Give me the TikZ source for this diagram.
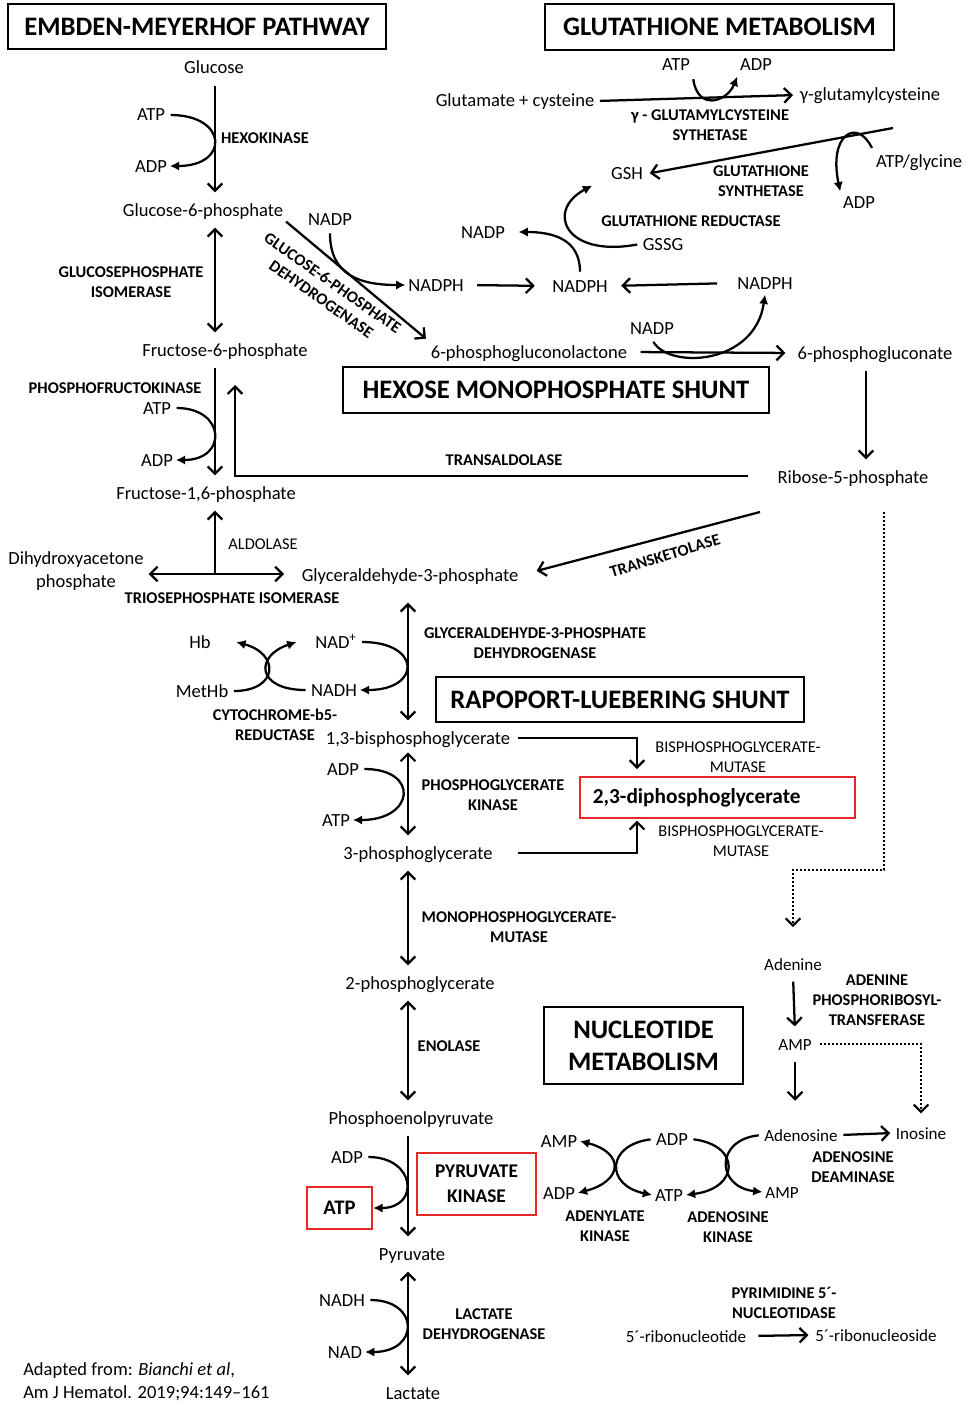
\documentclass[tikz,border=0pt]{standalone}
\usepackage{fontspec}
\setmainfont{Carlito}
\usetikzlibrary{arrows.meta}
\definecolor{boxred}{RGB}{230,40,40}
\tikzset{
  lbl/.style={font=\fontsize{13.9}{17}\selectfont, inner sep=2pt, text height=11pt, text depth=2pt},
  sml/.style={font=\fontsize{12.8}{15}\selectfont, inner sep=2pt, text height=11pt, text depth=2pt},
  two/.style={font=\fontsize{13.9}{17.5}\selectfont, inner sep=2pt, align=center},
  enz/.style={font=\bfseries\fontsize{12.3}{14.8}\selectfont, align=center, inner sep=1pt},
  enzr/.style={font=\fontsize{12.3}{14.8}\selectfont, align=center, inner sep=1pt},
  title/.style={draw, line width=1.1pt, font=\bfseries\fontsize{20}{24}\selectfont, align=center},
  redbox/.style={draw=boxred, line width=1.8pt, font=\bfseries\fontsize{14.5}{19}\selectfont, align=center},
  main/.style={line width=1.7pt, -{Straight Barb[length=5.5pt,width=11pt]}, shorten <=4.5pt, shorten >=4.5pt},
  both/.style={main, {Straight Barb[length=5.5pt,width=11pt]}-{Straight Barb[length=5.5pt,width=11pt]}},
  cof/.style={line width=1.7pt, -{Latex[length=7pt,width=7pt]}, shorten <=2pt},
  cofb/.style={line width=1.7pt, {Latex[length=7pt,width=7pt]}-{Latex[length=7pt,width=7pt]}},
  dotl/.style={line width=1.6pt, dash pattern=on 1.5pt off 1.5pt, -{Straight Barb[length=5.5pt,width=11pt]}}
}
\begin{document}
\begin{tikzpicture}[x=0.75pt, y=-0.75pt]
  \useasboundingbox (0,0) rectangle (970,1402);

  % titles
  \node[title, minimum width=283.5pt, minimum height=33.75pt] (tEMP) at (197,26.5) {EMBDEN-MEYERHOF PATHWAY};
  \node[title, minimum width=261.75pt, minimum height=34.5pt] (tGSH) at (719.5,27) {GLUTATHIONE METABOLISM};
  \node[title, minimum width=319.5pt, minimum height=34.5pt] (tHMP) at (556,390) {HEXOSE MONOPHOSPHATE SHUNT};
  \node[title, minimum width=276pt, minimum height=33.75pt] (tRL) at (620,699.5) {RAPOPORT-LUEBERING SHUNT};
  \node[title, minimum width=149.25pt, minimum height=57.75pt] (tNUC) at (643.5,1045.5) {NUCLEOTIDE\\METABOLISM};

  % columns and free ends
  \coordinate (colA) at (215,0);
  \coordinate (colB) at (408,0);
  \coordinate (colR) at (866,0);
  \coordinate (colM) at (637,0);
  \coordinate (ald) at (215,574);
  \coordinate (talend) at (748,476);
  \coordinate (tatip) at (235,385);
  \coordinate (tkstart) at (760,512);
  \coordinate (gsstart) at (893,128);
  \coordinate (dotA) at (884,512);
  \coordinate (dotB) at (793,870);

  % glycolysis
  \node[lbl] (glc) at (214,68) {Glucose};
  \node[lbl] (g6p) at (203,210) {Glucose-6-phosphate};
  \node[lbl] (f6p) at (225,350) {Fructose-6-phosphate};
  \node[lbl] (f16) at (206,493) {Fructose-1,6-phosphate};
  \node[two] (dhap) at (76,571) {Dihydroxyacetone\\phosphate};
  \node[lbl] (g3p) at (410,575) {Glyceraldehyde-3-phosphate};
  \node[lbl] (bpg) at (418,738) {1,3-bisphosphoglycerate};
  \node[lbl] (pg3) at (418,853) {3-phosphoglycerate};
  \node[lbl] (pg2) at (420,983) {2-phosphoglycerate};
  \node[lbl] (pep) at (411,1118) {Phosphoenolpyruvate};
  \node[lbl] (pyr) at (412,1254) {Pyruvate};
  \node[lbl] (lac) at (413,1393) {Lactate};

  % cofactors
  \node[lbl] (atpA) at (151,115) {ATP};
  \node[lbl] (adpA) at (151,166) {ADP};
  \node[lbl] (atpB) at (157,408) {ATP};
  \node[lbl] (adpB) at (157,460) {ADP};
  \node[lbl] (hb) at (200,642) {Hb};
  \node[lbl] (methb) at (202,691) {MetHb};
  \node[lbl] (nadA) at (336,642) {NAD\textsuperscript{+}};
  \node[lbl] (nadhA) at (334,690) {NADH};
  \node[lbl] (adpC) at (343,769) {ADP};
  \node[lbl] (atpC) at (336,820) {ATP};
  \node[lbl] (adpD) at (347,1157) {ADP};
  \node[redbox, font=\bfseries\fontsize{15.5}{19}\selectfont, minimum width=48.75pt, minimum height=31.5pt] (atpD) at (339.5,1208) {ATP};
  \node[redbox, minimum width=89.25pt, minimum height=46.5pt] (pk) at (476.5,1184) {PYRUVATE\\KINASE};
  \node[lbl] (nadhB) at (342,1300) {NADH};
  \node[lbl] (nadB) at (345,1352) {NAD};

  % hexose monophosphate shunt
  \node[lbl] (nadpA) at (330,219) {NADP};
  \node[lbl] (nadphA) at (436,285) {NADPH};
  \node[lbl] (nadphB) at (580,286) {NADPH};
  \node[lbl] (nadphC) at (765,283) {NADPH};
  \node[lbl] (pgl) at (529,352) {6-phosphogluconolactone};
  \node[lbl] (pgn) at (875,353) {6-phosphogluconate};
  \node[lbl] (nadpC) at (652,328) {NADP};
  \node[lbl] (r5p) at (853,477) {Ribose-5-phosphate};

  % glutathione
  \node[lbl] (glucys) at (515,101) {Glutamate + cysteine};
  \node[lbl] (ggc) at (870,95) {γ-glutamylcysteine};
  \node[lbl] (atpE) at (676,65) {ATP};
  \node[lbl] (adpE) at (756,65) {ADP};
  \node[lbl] (gsh) at (627,174) {GSH};
  \node[lbl] (atpgly) at (919,162) {ATP/glycine};
  \node[lbl] (adpF) at (859,203) {ADP};
  \node[lbl] (nadpB) at (483,232) {NADP};
  \node[lbl] (gssg) at (663,244) {GSSG};

  % Rapoport-Luebering
  \node[redbox, font=\bfseries\fontsize{16}{18}\selectfont, inner xsep=9.5pt, text width=187pt, align=left, minimum height=30.75pt] (dpg) at (717.5,797.5) {2,3-diphosphoglycerate};

  % nucleotides
  \node[sml] (ade) at (793,964) {Adenine};
  \node[sml] (amp) at (795,1044) {AMP};
  \node[sml] (ados) at (801,1135) {Adenosine};
  \node[sml] (ino) at (921,1133) {Inosine};
  \node[lbl] (ampA) at (559,1141) {AMP};
  \node[lbl] (adpG) at (672,1139) {ADP};
  \node[lbl] (adpH) at (559,1193) {ADP};
  \node[lbl] (atpG) at (669,1195) {ATP};
  \node[sml] (ampB) at (782,1192) {AMP};
  \node[sml] (rnt) at (686,1336) {5´-ribonucleotide};
  \node[sml] (rns) at (876,1335) {5´-ribonucleoside};

  % enzymes
  \node[enz] (hk) at (265,138) {HEXOKINASE};
  \node[enz] (gpi) at (131,282) {GLUCOSEPHOSPHATE\\ISOMERASE};
  \node[enz] (pfk) at (115,388) {PHOSPHOFRUCTOKINASE};
  \node[enz] (tald) at (504,460) {TRANSALDOLASE};
  \node[enzr] (aldo) at (263,544) {ALDOLASE};
  \node[enz] (tpi) at (232,598) {TRIOSEPHOSPHATE ISOMERASE};
  \node[enz] (gapdh) at (535,643) {GLYCERALDEHYDE-3-PHOSPHATE\\DEHYDROGENASE};
  \node[enz] (cb5r) at (275,725) {CYTOCHROME-b5-\\REDUCTASE};
  \node[enz] (pgk) at (493,795) {PHOSPHOGLYCERATE\\KINASE};
  \node[enzr] (bpgmA) at (738,757) {BISPHOSPHOGLYCERATE-\\MUTASE};
  \node[enzr] (bpgmB) at (741,841) {BISPHOSPHOGLYCERATE-\\MUTASE};
  \node[enz] (pgm) at (519,927) {MONOPHOSPHOGLYCERATE-\\MUTASE};
  \node[enz] (eno) at (449,1046) {ENOLASE};
  \node[enz] (ldh) at (484,1324) {LACTATE\\DEHYDROGENASE};
  \node[enz] (gcs) at (710,125) {γ - GLUTAMYLCYSTEINE\\SYTHETASE};
  \node[enz] (gss) at (761,181) {GLUTATHIONE\\SYNTHETASE};
  \node[enz] (gr) at (691,221) {GLUTATHIONE REDUCTASE};
  \node[enz] (aprt) at (877,1000) {ADENINE\\PHOSPHORIBOSYL-\\TRANSFERASE};
  \node[enz] (ada) at (853,1167) {ADENOSINE\\DEAMINASE};
  \node[enz] (ak) at (605,1226) {ADENYLATE\\KINASE};
  \node[enz] (adk) at (728,1227) {ADENOSINE\\KINASE};
  \node[enz] (p5n) at (784,1303) {PYRIMIDINE 5´-\\NUCLEOTIDASE};
  \node[enz, rotate=17] (tkt) at (665,556) {TRANSKETOLASE};
  \node[enz, rotate=-35] (g6pd) at (327,291) {GLUCOSE-6-PHOSPHATE\\DEHYDROGENASE};

  % source
  \node[font=\fontsize{13.9}{17.5}\selectfont, align=left, anchor=west, inner sep=0pt] (src) at (23,1382)
    {Adapted from: \textit{Bianchi et al},\\Am J Hematol. 2019;94:149–161};

  % main pathway arrows
  \draw[main] (glc.south -| colA) -- (g6p.north -| colA);
  \draw[both] (g6p.south -| colA) -- (f6p.north -| colA);
  \draw[main] (f6p.south -| colA) -- (f16.north -| colA);
  \draw[main, shorten <=0pt] (ald) -- (f16.south -| ald);
  \draw[both, shorten <=1.5pt, shorten >=11pt] (dhap.east |- ald) -- (g3p.west |- ald);
  \draw[main, shorten <=0pt, shorten >=0pt] (talend) -| (tatip);
  \draw[both, shorten <=12pt] (g3p.south -| colB) -- (bpg.north -| colB);
  \draw[both, shorten <=2pt] (bpg.south -| colB) -- (pg3.north -| colB);
  \draw[both] (pg3.south -| colB) -- (pg2.north -| colB);
  \draw[both] (pg2.south -| colB) -- (pep.north -| colB);
  \draw[main] (pep.south -| colB) -- (pyr.north -| colB);
  \draw[both] (pyr.south -| colB) -- (lac.north -| colB);

  % cofactor bends
  \draw[cof] (atpA.east) .. controls +(60,0) and +(60,0) .. (adpA.east);
  \draw[cof] (atpB.east) .. controls +(52,0) and +(52,0) .. (adpB.east);
  \draw[cof] (nadA.east) .. controls +(62,0) and +(62,0) .. (nadhA.east);
  \draw[cof] (adpC.east) .. controls +(58,0) and +(62,0) .. (atpC.east);
  \draw[cof] (adpD.east) .. controls +(50,0) and +(47,0) .. (atpD.east);
  \draw[cof] (nadhB.east) .. controls +(52,0) and +(55,0) .. (nadB.east);
  \draw[cof] (methb.east) .. controls +(47,0) and +(44,12) .. ([xshift=17pt]hb.east);
  \draw[cof] (nadhA.west) .. controls +(-52,0) and +(-42,14) .. ([xshift=-12pt]nadA.west);

  % hexose monophosphate shunt
  \draw[main, shorten <=0pt, shorten >=2pt] (g6p.south east) -- (pgl.north west);
  \draw[cof] (nadpA.south) .. controls +(0,45) and +(-45,0) .. (nadphA.west);
  \draw[main, shorten <=8pt, shorten >=11pt] (nadphA.east) -- (nadphB.west);
  \draw[main, shorten <=13pt, shorten >=8pt] (nadphC.west) -- (nadphB.east);
  \draw[main, shorten <=8pt, shorten >=7pt] (pgl.east) -- (pgn.west);
  \draw[cof] (nadpC.south) .. controls +(18,30) and +(-10,70) .. (nadphC.south);
  \draw[main] (pgn.south -| colR) -- (r5p.north -| colR);
  \draw[main, shorten <=0pt, shorten >=12pt] (tkstart) -- (g3p.east);

  % glutathione
  \draw[main, shorten <=2pt, shorten >=3pt] (glucys.east) -- (ggc.west);
  \draw[cof] (atpE.south east) .. controls +(5,35) and +(-10,25) .. (adpE.south west);
  \draw[main, shorten <=0pt, shorten >=3pt] (gsstart) -- (gsh.east);
  \draw[cof] (atpgly.north west) .. controls +(-16,-33) and +(-12,-57) .. (adpF.north west);
  \draw[cof] (gssg.west) .. controls +(-75,14) and +(-47,25) .. ([xshift=-12pt]gsh.south west);
  \draw[cof] (nadphB.north) .. controls +(0,-35) and +(35,0) .. ([xshift=8pt]nadpB.east);

  % Rapoport-Luebering shunt
  \draw[main, shorten <=4pt, shorten >=5pt] (bpg.east) -| (dpg.north -| colM);
  \draw[main, shorten <=17pt, shorten >=1pt] (pg3.east) -| (dpg.south -| colM);

  % nucleotide metabolism
  \draw[dotl, shorten >=19pt] (dotA) |- (dotB) -- (ade.north);
  \draw[main] (ade.south) -- (amp.north);
  \draw[main, shorten >=17pt] (amp.south) -- (amp.south |- ados.north);
  \draw[dotl, shorten <=4pt, shorten >=6pt] (amp.east) -| (ino.north);
  \draw[main, shorten <=2pt, shorten >=2pt] (ados.east) -- (ino.west);
  \draw[cofb] (ampA.east) .. controls +(45,12) and +(45,-12) .. (adpH.east);
  \draw[cof] (adpG.west) .. controls +(-47,6) and +(-47,-10) .. (atpG.west);
  \draw[cof] (adpG.east) .. controls +(50,6) and +(54,-7) .. (atpG.east);
  \draw[cof] (ados.west) .. controls +(-47,5) and +(-46,-5) .. (ampB.west);
  \draw[main, shorten <=7pt, shorten >=3pt] (rnt.east) -- (rns.west);
\end{tikzpicture}
\end{document}
